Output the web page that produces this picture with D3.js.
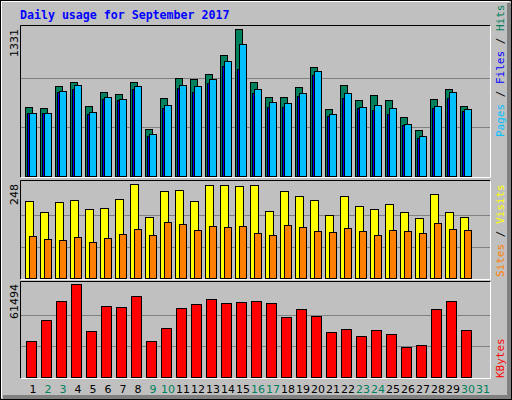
<!DOCTYPE html>
<html><head><meta charset="utf-8">
<script src="https://cdn.jsdelivr.net/npm/d3@7"></script>
<style>body{margin:0;background:#fff}</style></head>
<body><svg id="c" width="512" height="400"></svg>
<script>
const days = d3.range(1,32);
const weekend = [2,3,9,10,16,17,23,24,30,31];
const hits  = [623,614,816,852,636,762,744,852,429,708,888,879,924,1094,1331,852,717,717,807,987,609,825,684,735,684,537,420,699,789,636];
const files = [573,573,771,825,582,717,699,816,384,645,825,816,879,1041,1194,789,672,663,753,951,564,753,627,645,618,474,366,636,762,609];
const pages = [570,570,765,792,558,693,684,792,360,612,801,765,846,999,972,747,621,621,720,918,540,702,612,594,558,459,342,612,702,585];
const sites = [202,175,200,205,181,186,208,248,162,229,232,202,245,245,242,245,178,229,216,205,165,216,191,181,194,173,159,221,173,162];
const visits= [111,103,100,108,95,106,116,130,114,149,143,127,138,135,138,119,114,140,135,124,122,132,124,114,127,124,119,146,130,127];
const kbytes= [23925,37788,50534,61494,30410,47180,46509,53888,23925,32422,45838,48521,51875,49192,49863,50534,49192,39801,45167,40472,29739,31751,27056,31080,28397,19677,21018,45167,50534,31080];

const svg = d3.select('#c');
const W=512,H=400;
svg.append('rect').attr('width',W).attr('height',H).attr('fill','#c0c0c0');
// 3D frame
svg.append('rect').attr('x',0.5).attr('y',0.5).attr('width',W-1).attr('height',H-1).attr('fill','none').attr('stroke','#000');
svg.append('path').attr('d','M1.5,398 V1.5 H509').attr('stroke','#fff').attr('fill','none');
svg.append('rect').attr('x',507).attr('y',3).attr('width',4).attr('height',396).attr('fill','#808080');
svg.append('rect').attr('x',3).attr('y',395).attr('width',508).attr('height',4).attr('fill','#808080');
svg.append('rect').attr('x',0.5).attr('y',0.5).attr('width',W-1).attr('height',H-1).attr('fill','none').attr('stroke','#000');

svg.append('text').attr('x',20).attr('y',19).text('Daily usage for September 2017')
 .attr('font-family','DejaVu Sans Mono').attr('font-weight','bold').attr('font-size',11.6).attr('fill','#0000ff');

const x = d3.scaleLinear().domain([1,2]).range([25,40]);
const panels = [{y0:25,y1:177,top:29,max:1331},{y0:180,y1:279,top:184,max:248},{y0:281,y1:378,top:284,max:61494}];

function panel(p){
  const y = d3.scaleLinear().domain([0,p.max]).range([p.y1-1,p.top]);
  const g = svg.append('g');
  g.append('rect').attr('x',20.5).attr('y',p.y0+0.5).attr('width',469).attr('height',p.y1-p.y0).attr('fill','#c0c0c0').attr('stroke','none');
  const gh = (p.y1-1-p.top);
  [1,2].forEach(k=>{
    const gy = Math.round(p.y1-1-gh*k/3)+0.5;
    g.append('line').attr('x1',21).attr('x2',490).attr('y1',gy).attr('y2',gy).attr('stroke','#808080');
  });
  g.append('path').attr('d',`M20.5,${p.y1+0.5} V${p.y0+0.5} H490.5`).attr('stroke','#000').attr('fill','none');
  g.append('path').attr('d',`M490.5,${p.y0+0.5} V${p.y1+0.5} H20.5`).attr('stroke','#fff').attr('fill','none');
  svg.append('text').attr('transform',`translate(18,${p.top}) rotate(-90)`).attr('text-anchor','end')
   .attr('font-family','DejaVu Sans').attr('font-size',11).attr('fill','#000').text(p.max);
  return {g,y};
}
function bars(g,y,vals,off,w,color){
  g.selectAll(null).data(vals).enter().append('rect')
   .attr('x',(v,i)=>x(i+1)+off+0.5).attr('y',v=>Math.round(y(v))+0.5)
   .attr('width',w).attr('height',v=>y(0)-Math.round(y(v)))
   .attr('fill',color).attr('stroke','#000');
}
let P=panel(panels[0]);
bars(P.g,P.y,hits,0,7,'#00805c');
bars(P.g,P.y,pages,2,7,'#0000ff');
bars(P.g,P.y,files,4,7,'#00c0ff');
P=panel(panels[1]);
bars(P.g,P.y,sites,0,8,'#ffff00');
bars(P.g,P.y,visits,4,7,'#ff8000');
P=panel(panels[2]);
bars(P.g,P.y,kbytes,1,10,'#ff0000');

// day labels
svg.selectAll(null).data(days).enter().append('text')
 .attr('x',d=>x(d)+8).attr('y',393).attr('text-anchor','middle')
 .attr('font-family','DejaVu Sans').attr('font-size',11)
 .attr('fill',d=>weekend.includes(d)?'#00805c':'#000').text(d=>d);

// right legends
function legend(yb,parts){
  const t = svg.append('text').attr('transform',`translate(504,${yb}) rotate(-90)`)
   .attr('font-family','DejaVu Sans Mono').attr('font-size',11);
  parts.forEach(([s,c])=>t.append('tspan').attr('fill',c).text(s));
}
legend(137,[['Pages','#00c0ff'],[' / ','#000'],['Files','#0000ff'],[' / ','#000'],['Hits','#00805c']]);
legend(277,[['Sites','#ff8000'],[' / ','#000'],['Visits','#ffff00']]);
legend(378,[['KBytes','#ff0000']]);
</script></body></html>
